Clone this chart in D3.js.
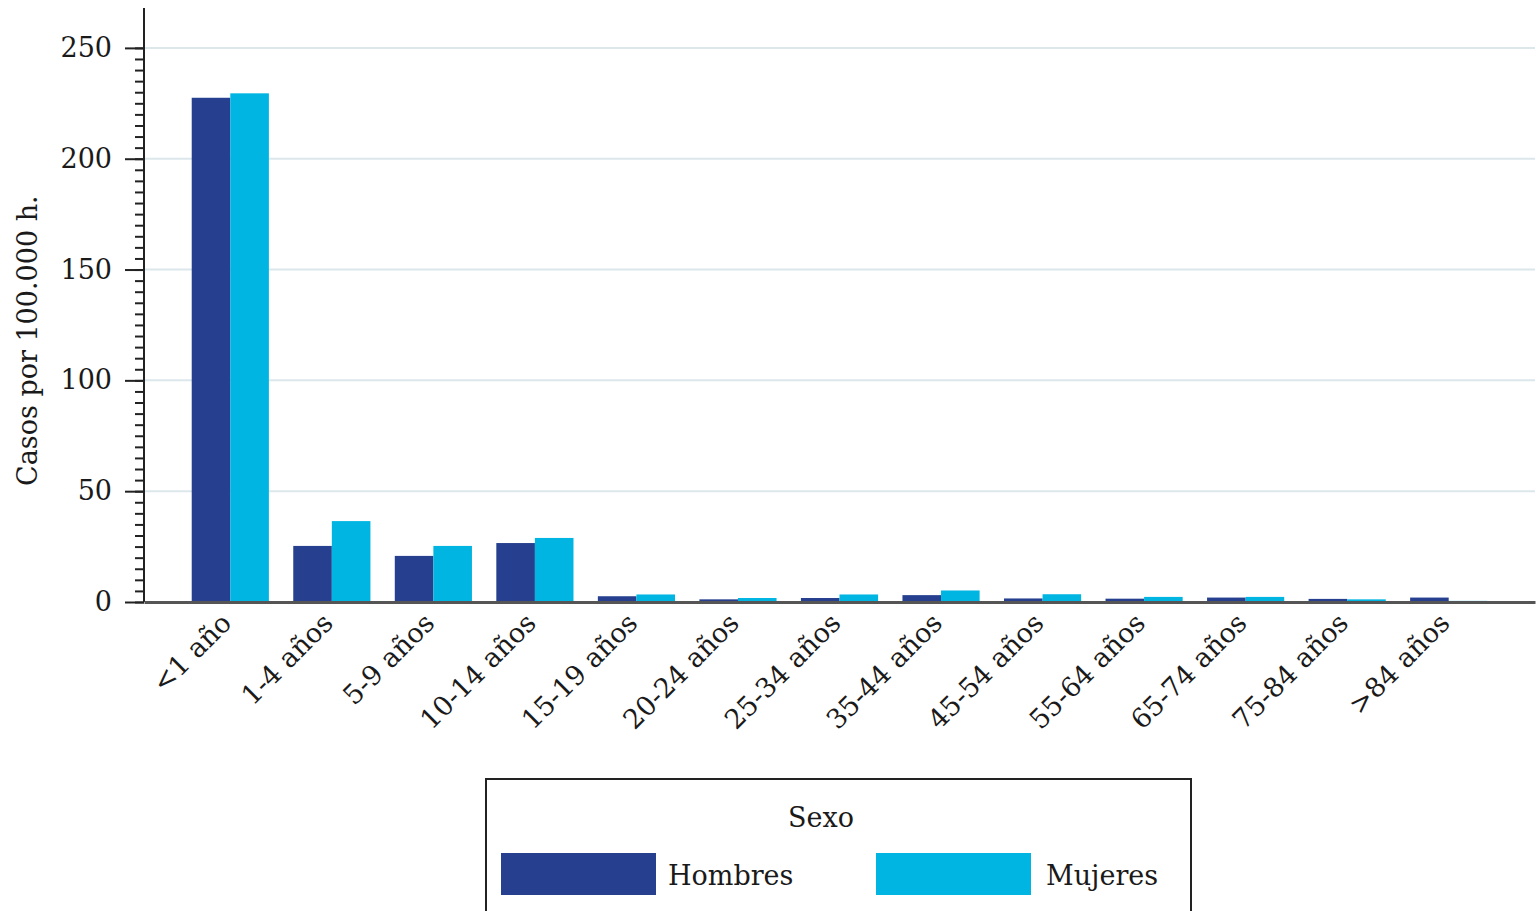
<!DOCTYPE html>
<html>
<head>
<meta charset="utf-8">
<script src="https://cdn.jsdelivr.net/npm/d3@7"></script>
<style>
  body { margin: 0; background: #fff; }
  svg text { font-family: "DejaVu Serif", serif; fill: #1a1a1a; }
</style>
</head>
<body>
<svg id="chart" width="1538" height="911"></svg>
<script>
// age groups and rates per 100.000 h.
var categories = ["<1 año", "1-4 años", "5-9 años", "10-14 años", "15-19 años", "20-24 años",
  "25-34 años", "35-44 años", "45-54 años", "55-64 años", "65-74 años", "75-84 años", ">84 años"];
var hombres = [227.5, 25.3, 20.8, 26.6, 2.6, 1.2, 1.8, 3.1, 1.6, 1.5, 2.0, 1.4, 2.0];
var mujeres = [229.5, 36.5, 25.3, 28.9, 3.4, 1.8, 3.4, 5.2, 3.5, 2.3, 2.3, 1.2, 0.5];
var yTicks = [0, 50, 100, 150, 200, 250];
var series = ["Hombres", "Mujeres"];
var colors = ["#26408f", "#00b5e2"];

var svg = d3.select("#chart"),
  margin = { top: 8, right: 3, bottom: 309, left: 144 },
  width = 1538 - margin.left - margin.right,
  height = 911 - margin.top - margin.bottom,
  g = svg.append("g").attr("transform", "translate(" + margin.left + "," + margin.top + ")");

var x0 = d3.scaleBand().domain(categories).range([0, width]).paddingInner(0.24).paddingOuter(0.47),
  x1 = d3.scaleBand().domain(series).range([0, x0.bandwidth()]),
  y = d3.scaleLinear().domain([0, 268]).range([height, 0]);

// gridlines
g.selectAll(".grid")
  .data(yTicks.filter(function (t) { return t > 0; }))
  .enter().append("line")
  .attr("x1", 0).attr("x2", width)
  .attr("y1", function (d) { return y(d); })
  .attr("y2", function (d) { return y(d); })
  .attr("stroke", "#dce7ec").attr("stroke-width", 2);

// bars
var groups = g.selectAll(".grp")
  .data(categories)
  .enter().append("g")
  .attr("transform", function (d) { return "translate(" + x0(d) + ",0)"; });

groups.selectAll("rect")
  .data(function (d, i) { return [hombres[i], mujeres[i]]; })
  .enter().append("rect")
  .attr("x", function (d, j) { return x1(series[j]); })
  .attr("width", x1.bandwidth())
  .attr("y", function (d) { return y(d); })
  .attr("height", function (d) { return height - y(d); })
  .attr("fill", function (d, j) { return colors[j]; });

// y axis with minor ticks
var minor = d3.range(0, 255, 5);
g.append("g")
  .call(d3.axisLeft(y).tickValues(minor).tickSize(9).tickFormat(""))
  .call(function (a) {
    a.select(".domain").remove();
    a.selectAll("line").attr("stroke", "#222").attr("stroke-width", 2);
  });
g.append("g")
  .call(d3.axisLeft(y).tickValues(yTicks).tickSize(19).tickPadding(13))
  .call(function (a) {
    a.select(".domain").remove();
    a.selectAll("line").attr("stroke", "#222").attr("stroke-width", 2);
    a.selectAll("text").attr("font-size", 27).attr("font-family", "DejaVu Serif").attr("fill", "#1a1a1a");
  });
g.append("line")
  .attr("x1", 0).attr("x2", 0).attr("y1", 0).attr("y2", height)
  .attr("stroke", "#222").attr("stroke-width", 2);

// x axis
var xAxis = g.append("g")
  .attr("transform", "translate(0," + height + ")")
  .call(d3.axisBottom(x0).tickSize(0).tickPadding(0));
xAxis.select(".domain").attr("stroke", "#555").attr("stroke-width", 3);
xAxis.selectAll("text")
  .attr("font-size", 27)
  .attr("font-family", "DejaVu Serif")
  .attr("fill", "#1a1a1a")
  .attr("text-anchor", "end")
  .attr("dy", "0.35em")
  .attr("transform", "translate(-4,16) rotate(-45)");

// y axis title
svg.append("text")
  .attr("transform", "translate(37," + (margin.top + height * 0.56) + ") rotate(-90)")
  .attr("text-anchor", "middle")
  .attr("font-size", 27)
  .text("Casos por 100.000 h.");

// legend
var legend = svg.append("g").attr("transform", "translate(486,779)");
legend.append("rect")
  .attr("width", 705).attr("height", 140)
  .attr("fill", "#fff").attr("stroke", "#222").attr("stroke-width", 2);
legend.append("text")
  .attr("x", 335).attr("y", 48)
  .attr("text-anchor", "middle")
  .attr("font-size", 27)
  .text("Sexo");
var item = legend.selectAll(".item")
  .data(series)
  .enter().append("g")
  .attr("transform", function (d, i) { return "translate(" + (15 + i * 375) + ",74)"; });
item.append("rect")
  .attr("width", 155).attr("height", 42)
  .attr("fill", function (d, i) { return colors[i]; });
item.append("text")
  .attr("x", function (d, i) { return i === 0 ? 167 : 170; })
  .attr("y", 32)
  .attr("font-size", 27)
  .text(function (d) { return d; });
</script>
</body>
</html>
